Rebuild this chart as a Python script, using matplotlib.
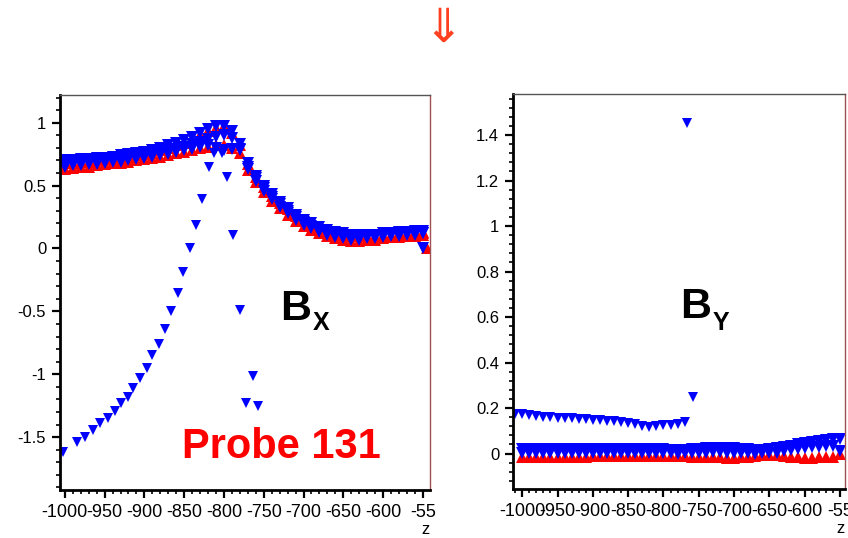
import matplotlib
matplotlib.use("Agg")
import matplotlib.pyplot as plt
from matplotlib.ticker import MultipleLocator, FuncFormatter

plt.rcParams['font.family'] = ['Liberation Sans', 'DejaVu Sans']

# z sample points used by the dense probe bands
z_grid = [-1000, -990, -980, -970, -960, -950, -940, -930, -920, -910,
          -900, -890, -880, -870, -860, -850, -840, -830, -820, -810,
          -800, -790, -780, -770, -760, -750, -740, -730, -720, -710,
          -700, -690, -680, -670, -660, -650, -640, -630, -620, -610,
          -600, -590, -580, -570, -560, -550]

# ---- Bx ----
bx_blue_hi = [0.70, 0.70, 0.71, 0.71, 0.72, 0.72, 0.73, 0.74, 0.75, 0.76,
              0.77, 0.78, 0.80, 0.82, 0.84, 0.86, 0.89, 0.92, 0.95, 0.97,
              0.97, 0.93, 0.83, 0.68, 0.58, 0.50, 0.43, 0.37, 0.32, 0.27,
              0.23, 0.20, 0.17, 0.15, 0.13, 0.12, 0.11, 0.11, 0.11, 0.11,
              0.12, 0.12, 0.13, 0.13, 0.14, 0.14]
bx_blue_mid = [0.67, 0.67, 0.68, 0.68, 0.69, 0.70, 0.70, 0.71, 0.72, 0.73,
               0.74, 0.75, 0.76, 0.78, 0.79, 0.81, 0.83, 0.85, 0.87, 0.89,
               0.90, 0.88, 0.79, 0.65, 0.56, 0.48, 0.41, 0.35, 0.30, 0.25,
               0.21, 0.18, 0.15, 0.13, 0.11, 0.10, 0.09, 0.09, 0.09, 0.10,
               0.10, 0.11, 0.11, 0.12, 0.12, 0.12]
bx_blue_lo = [0.65, 0.66, 0.66, 0.67, 0.67, 0.68, 0.69, 0.69, 0.70, 0.71,
              0.72, 0.73, 0.74, 0.75, 0.77, 0.78, 0.79, 0.81, 0.82, 0.80,
              0.78, 0.79, 0.78, 0.63, 0.54, 0.46, 0.39, 0.33, 0.28, 0.23,
              0.19, 0.16, 0.13, 0.11, 0.09, 0.08, 0.07, 0.07, 0.08, 0.08,
              0.09, 0.10, 0.10, 0.11, 0.11, 0.12]
bx_red_hi = [0.68, 0.68, 0.69, 0.69, 0.70, 0.71, 0.71, 0.72, 0.73, 0.74,
             0.75, 0.76, 0.78, 0.80, 0.82, 0.84, 0.87, 0.90, 0.93, 0.96,
             0.97, 0.92, 0.82, 0.67, 0.57, 0.49, 0.42, 0.36, 0.31, 0.26,
             0.22, 0.19, 0.16, 0.14, 0.12, 0.11, 0.10, 0.10, 0.10, 0.10,
             0.11, 0.11, 0.12, 0.12, 0.13, 0.13]
bx_red_lo = [0.63, 0.64, 0.65, 0.65, 0.66, 0.67, 0.68, 0.68, 0.69, 0.70,
             0.71, 0.72, 0.73, 0.74, 0.76, 0.77, 0.78, 0.80, 0.81, 0.82,
             0.82, 0.80, 0.76, 0.62, 0.53, 0.45, 0.38, 0.32, 0.27, 0.22,
             0.18, 0.15, 0.12, 0.10, 0.08, 0.07, 0.06, 0.06, 0.07, 0.07,
             0.08, 0.09, 0.09, 0.10, 0.10, 0.11]
bx_tail_z = [-550, -545]
bx_tail_blue = [0.00, 0.00]
bx_tail_red = [0.12, 0.00]

# faulty probe points in Bx
bx_odd_z = [-1002, -985, -975, -964, -956, -946, -937, -929, -920, -914,
            -906, -897, -890, -882, -874, -866, -858, -851, -843, -835,
            -827, -819, -812, -803, -796, -788, -780, -772, -763, -757]
bx_odd = [-1.62, -1.54, -1.50, -1.44, -1.39, -1.35, -1.29, -1.23, -1.18, -1.11,
          -1.03, -0.95, -0.85, -0.76, -0.64, -0.50, -0.35, -0.19, 0.00, 0.19,
          0.39, 0.65, 0.76, 0.76, 0.57, 0.11, -0.49, -1.23, -1.01, -1.25]

# ---- By ----
by_blue_hi = [0.018, 0.020, 0.018, 0.019, 0.018, 0.020, 0.018, 0.019, 0.018, 0.020,
              0.018, 0.019, 0.018, 0.020, 0.018, 0.019, 0.018, 0.020, 0.018, 0.019,
              0.018, 0.016, 0.014, 0.016, 0.018, 0.020, 0.022, 0.024, 0.024, 0.023,
              0.022, 0.020, 0.018, 0.016, 0.016, 0.018, 0.022, 0.028, 0.034, 0.040,
              0.045, 0.050, 0.054, 0.058, 0.062, 0.064]
by_blue_lo = [0.004, 0.003, 0.004, 0.003, 0.004, 0.003, 0.004, 0.003, 0.004, 0.003,
              0.004, 0.003, 0.004, 0.003, 0.004, 0.003, 0.004, 0.003, 0.004, 0.003,
              0.002, 0.001, 0.000, 0.001, 0.002, 0.003, 0.004, 0.005, 0.005, 0.004,
              0.003, 0.002, 0.001, 0.000, 0.001, 0.002, 0.004, 0.010, 0.016, 0.020,
              0.024, 0.027, 0.030, 0.032, 0.034, 0.010]
by_red = [-0.016, -0.017, -0.016, -0.017, -0.016, -0.017, -0.016, -0.015, -0.014, -0.014,
          -0.013, -0.013, -0.012, -0.012, -0.012, -0.012, -0.012, -0.012, -0.012, -0.012,
          -0.012, -0.013, -0.013, -0.013, -0.014, -0.014, -0.015, -0.016, -0.017, -0.018,
          -0.018, -0.017, -0.016, -0.013, -0.008, -0.006, -0.008, -0.012, -0.015, -0.017,
          -0.018, -0.018, -0.017, -0.017, -0.016, 0.000]

by_odd_z = [-1010, -1000, -990, -980, -970, -960, -950, -940, -930, -920,
            -910, -900, -890, -880, -870, -860, -850, -840, -830, -820,
            -810, -800, -790, -780, -770, -767, -758]
by_odd = [0.175, 0.172, 0.168, 0.165, 0.162, 0.160, 0.158, 0.156, 0.154, 0.152,
          0.150, 0.148, 0.146, 0.144, 0.141, 0.138, 0.135, 0.130, 0.122, 0.115,
          0.120, 0.124, 0.127, 0.130, 0.140, 1.455, 0.247]

x_ticks = [-1000, -950, -900, -850, -800, -750, -700, -650, -600, -550]
x_ticklabels = ["-1000", "-950", "-900", "-850", "-800", "-750", "-700", "-650", "-600", "-55"]

BLUE = "#0000ff"
RED = "#ff0000"
MS = 8


def style_axes(ax, y_major, y_minor):
    ax.set_xticks(x_ticks)
    ax.set_xticklabels(x_ticklabels)
    ax.xaxis.set_minor_locator(MultipleLocator(10))
    ax.yaxis.set_major_locator(MultipleLocator(y_major))
    ax.yaxis.set_minor_locator(MultipleLocator(y_minor))
    ax.yaxis.set_major_formatter(FuncFormatter(lambda v, p: f"{v:g}"))
    ax.tick_params(which="major", direction="out", length=6, width=1.6, pad=4)
    ax.tick_params(which="minor", direction="out", length=3, width=1.2)
    ax.tick_params(axis="x", labelsize=13)
    ax.tick_params(axis="y", labelsize=12)
    ax.tick_params(top=False, right=False)
    for s in ("left", "bottom"):
        ax.spines[s].set_linewidth(2)
        ax.spines[s].set_color("black")
    ax.spines["top"].set_color("#555555")
    ax.spines["top"].set_linewidth(1)
    ax.spines["right"].set_color("#a05050")
    ax.spines["right"].set_linewidth(1)
    ax.set_xlabel("z", loc="right", fontsize=12, labelpad=1)


def pts(ax, x, y, up):
    ax.plot(x, y, ls="none", marker="^" if up else "v",
            color=RED if up else BLUE, ms=MS, mew=0)


fig = plt.figure(figsize=(8.48, 5.38), dpi=100)

# left panel: Bx
ax1 = fig.add_axes([0.0708, 0.0892, 0.4363, 0.7342])
pts(ax1, z_grid, bx_red_hi, True)
pts(ax1, z_grid, bx_red_lo, True)
pts(ax1, bx_tail_z, bx_tail_red, True)
pts(ax1, z_grid, bx_blue_hi, False)
pts(ax1, z_grid, bx_blue_mid, False)
pts(ax1, z_grid, bx_blue_lo, False)
pts(ax1, bx_tail_z[:1], bx_tail_blue[:1], False)
ax1.plot(bx_odd_z, bx_odd, ls="none", marker="v", color=BLUE, ms=6.5, mew=0)
ax1.set_xlim(-1006, -541)
ax1.set_ylim(-1.92, 1.22)
style_axes(ax1, 0.5, 0.1)
ax1.text(0.595, 0.43, "B", transform=ax1.transAxes, fontsize=31, fontweight="bold")
ax1.text(0.683, 0.405, "X", transform=ax1.transAxes, fontsize=18, fontweight="bold")
ax1.text(0.33, 0.081, "Probe 131", transform=ax1.transAxes, fontsize=30,
         fontweight="bold", color=RED)

# right panel: By
ax2 = fig.add_axes([0.605, 0.0911, 0.3915, 0.734])
pts(ax2, z_grid, by_red, True)
pts(ax2, z_grid, by_blue_lo, False)
pts(ax2, z_grid, by_blue_hi, False)
ax2.plot(by_odd_z, by_odd, ls="none", marker="v", color=BLUE, ms=6.5, mew=0)
ax2.set_xlim(-1013, -543)
ax2.set_ylim(-0.156, 1.58)
style_axes(ax2, 0.2, 0.04)
ax2.text(0.503, 0.433, "B", transform=ax2.transAxes, fontsize=31, fontweight="bold")
ax2.text(0.60, 0.403, "Y", transform=ax2.transAxes, fontsize=18, fontweight="bold")

fig.text(0.522, 0.946, "\u21d3", ha="center", va="center", fontsize=34,
         color="#ff4020", family="DejaVu Sans")

fig.savefig("out.png", dpi=100)
